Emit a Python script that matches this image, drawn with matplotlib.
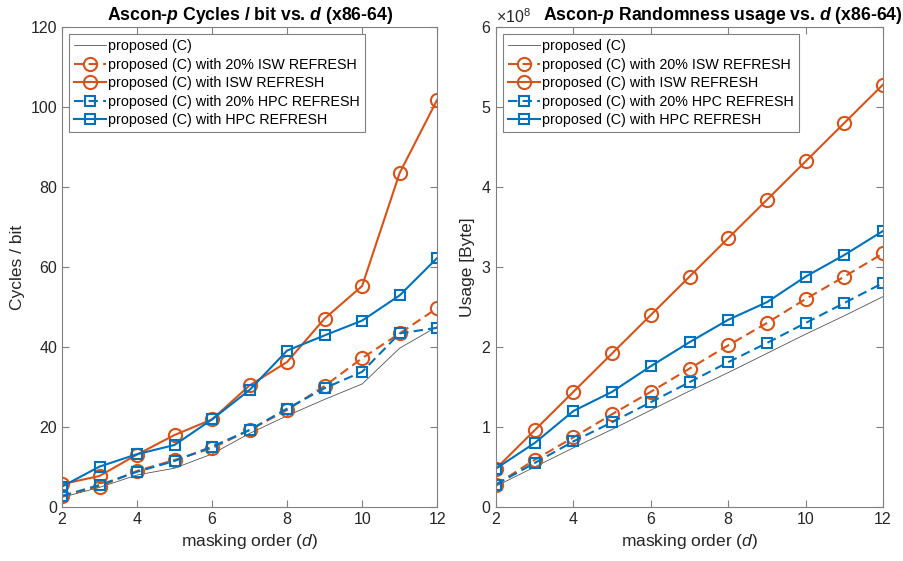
import matplotlib
matplotlib.use("Agg")
import matplotlib.pyplot as plt

# masking order
d = [2, 3, 4, 5, 6, 7, 8, 9, 10, 11, 12]

# Cycles / bit (x86-64)
cyc_prop = [2.4, 4.9, 8.0, 9.7, 13.25, 18.4, 22.8, 26.9, 30.75, 39.7, 45.1]
cyc_isw20 = [2.75, 5.1, 9.0, 11.75, 14.7, 19.25, 24.25, 30.25, 37.2, 43.4, 49.7]
cyc_isw = [5.7, 7.75, 13.1, 18.0, 21.9, 30.4, 36.25, 47.1, 55.25, 83.5, 101.8]
cyc_hpc20 = [2.75, 5.5, 8.8, 11.5, 15.1, 19.25, 24.6, 29.7, 33.8, 43.4, 44.8]
cyc_hpc = [5.1, 10.1, 13.2, 15.5, 21.9, 29.25, 39.1, 42.9, 46.6, 52.9, 62.25]

# Randomness usage [Byte]
rnd_prop = [0.26e8, 0.50e8, 0.74e8, 0.97e8, 1.21e8, 1.45e8, 1.68e8, 1.92e8, 2.16e8, 2.39e8, 2.63e8]
rnd_isw20 = [0.28e8, 0.59e8, 0.87e8, 1.16e8, 1.44e8, 1.73e8, 2.02e8, 2.30e8, 2.60e8, 2.88e8, 3.17e8]
rnd_isw = [0.48e8, 0.96e8, 1.44e8, 1.92e8, 2.40e8, 2.88e8, 3.36e8, 3.84e8, 4.32e8, 4.80e8, 5.28e8]
rnd_hpc20 = [0.28e8, 0.55e8, 0.82e8, 1.06e8, 1.31e8, 1.56e8, 1.81e8, 2.05e8, 2.30e8, 2.55e8, 2.80e8]
rnd_hpc = [0.48e8, 0.80e8, 1.20e8, 1.44e8, 1.76e8, 2.06e8, 2.34e8, 2.56e8, 2.88e8, 3.15e8, 3.45e8]

labels = ['proposed (C)',
          'proposed (C) with 20% ISW REFRESH',
          'proposed (C) with ISW REFRESH',
          'proposed (C) with 20% HPC REFRESH',
          'proposed (C) with HPC REFRESH']

orange = '#D95319'
blue = '#0072BD'
axcol = '#808080'
txtcol = '#262626'

plt.rcParams['font.family'] = 'Liberation Sans'
plt.rcParams['mathtext.fontset'] = 'custom'
plt.rcParams['mathtext.it'] = 'Liberation Sans:italic'
plt.rcParams['mathtext.bf'] = 'Liberation Sans:bold:italic'
plt.rcParams['mathtext.rm'] = 'Liberation Sans'

fig = plt.figure(figsize=(9.04, 5.61), dpi=100)
ax1 = fig.add_axes([0.0686, 0.0963, 0.415, 0.8556])
ax2 = fig.add_axes([0.5487, 0.0963, 0.4281, 0.8556])


def draw(ax, ys):
    prop, isw20, isw, hpc20, hpc = ys
    ax.plot(d, prop, color='#555555', lw=0.6, label=labels[0])
    ax.plot(d, isw20, color=orange, lw=1.5, dashes=(4.5, 2.5), marker='o', ms=9.5,
            mfc='none', mew=1.5, label=labels[1])
    ax.plot(d, isw, color=orange, lw=1.5, marker='o', ms=9.5,
            mfc='none', mew=1.5, label=labels[2])
    ax.plot(d, hpc20, color=blue, lw=1.5, dashes=(4.5, 2.5), marker='s', ms=7,
            mfc='none', mew=1.5, label=labels[3])
    ax.plot(d, hpc, color=blue, lw=1.5, marker='s', ms=7,
            mfc='none', mew=1.5, label=labels[4])
    ax.set_xlim(2, 12)
    ax.set_xticks([2, 4, 6, 8, 10, 12])
    ax.tick_params(direction='in', top=True, right=True, length=5,
                   color=axcol, labelcolor=txtcol, labelsize=11.5, width=0.8)
    for s in ax.spines.values():
        s.set_color(axcol)
        s.set_linewidth(0.8)
    ax.set_xlabel('masking order ($d$)', fontsize=12.5, color=txtcol, labelpad=4)
    leg = ax.legend(loc='upper left', fontsize=10.3, frameon=True, fancybox=False,
                    framealpha=1, edgecolor=axcol, handlelength=2.2,
                    handletextpad=0.15, borderpad=0.35, labelspacing=0.32,
                    borderaxespad=0.5)
    leg.get_frame().set_linewidth(0.8)


draw(ax1, [cyc_prop, cyc_isw20, cyc_isw, cyc_hpc20, cyc_hpc])
ax1.set_ylim(0, 120)
ax1.set_yticks(range(0, 121, 20))
ax1.set_ylabel('Cycles / bit', fontsize=12.5, color=txtcol, labelpad=4)
ax1.set_title(r'Ascon-$\mathbf{p}$ Cycles / bit vs. $\mathbf{d}$ (x86-64)',
              fontsize=12.7, fontweight='bold', pad=5)

draw(ax2, [rnd_prop, rnd_isw20, rnd_isw, rnd_hpc20, rnd_hpc])
ax2.set_ylim(0, 6e8)
ax2.set_yticks([0, 1e8, 2e8, 3e8, 4e8, 5e8, 6e8])
ax2.ticklabel_format(axis='y', style='sci', scilimits=(0, 0), useMathText=True)
ax2.yaxis.get_offset_text().set_fontsize(11.5)
ax2.yaxis.get_offset_text().set_color(txtcol)
ax2.set_ylabel('Usage [Byte]', fontsize=12.5, color=txtcol, labelpad=4)
ax2.set_title(r'Ascon-$\mathbf{p}$ Randomness usage vs. $\mathbf{d}$ (x86-64)',
              fontsize=12.7, fontweight='bold', pad=5, x=0.585)

fig.savefig('out.png', dpi=100)
